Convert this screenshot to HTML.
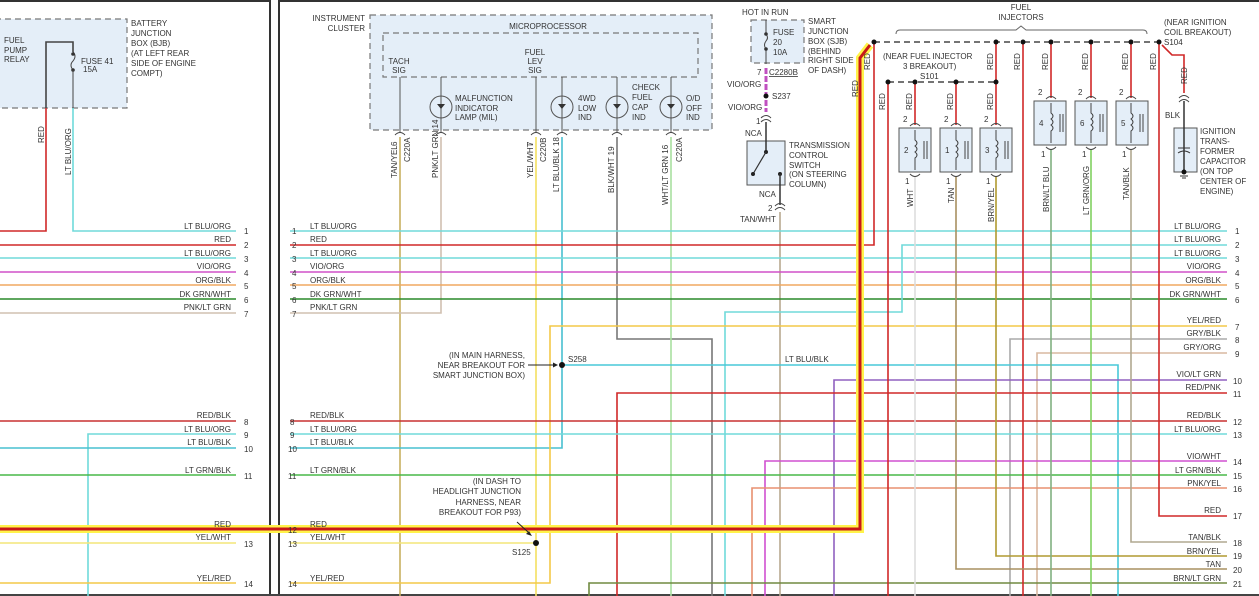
<!DOCTYPE html>
<html><head><meta charset="utf-8"><style>
html,body{margin:0;padding:0;background:#fff;}
svg{display:block;}
text{font-family:"Liberation Sans",sans-serif;font-size:8px;fill:#333;}
.r{text-anchor:end;}
.m{text-anchor:middle;}
.box{fill:#e4eef8;stroke:#777;stroke-width:1.2;stroke-dasharray:6,4;}
.sb{fill:#e4eef8;stroke:#555;stroke-width:1;}
.w{fill:none;stroke-width:1.6;}
</style></head><body>
<svg width="1259" height="596" viewBox="0 0 1259 596" xmlns="http://www.w3.org/2000/svg">
<!-- frames -->
<line x1="0" y1="1" x2="271" y2="1" stroke="#333" stroke-width="2"/>
<line x1="270" y1="0" x2="270" y2="596" stroke="#333" stroke-width="2"/>
<line x1="279" y1="0" x2="279" y2="596" stroke="#333" stroke-width="2"/>
<line x1="279" y1="1" x2="1259" y2="1" stroke="#333" stroke-width="2"/>
<line x1="0" y1="595" x2="1259" y2="595" stroke="#444" stroke-width="2"/>

<!-- LEFT PANEL -->
<rect class="box" x="-5" y="19" width="132" height="89"/>
<text x="4" y="43">FUEL</text><text x="4" y="53">PUMP</text><text x="4" y="62">RELAY</text>
<text x="131" y="26">BATTERY</text><text x="131" y="36">JUNCTION</text><text x="131" y="46">BOX (BJB)</text><text x="131" y="56">(AT LEFT REAR</text><text x="131" y="66">SIDE OF ENGINE</text><text x="131" y="76">COMPT)</text>
<polyline class="w" stroke="#444" stroke-width="1" points="46,108 46,42 73,42 73,52"/>
<path d="M73,52 q4,4 0,9 q-4,4 0,9" fill="none" stroke="#444"/>
<circle cx="73" cy="54" r="1.8" fill="#333"/><circle cx="73" cy="70" r="1.8" fill="#333"/>
<line x1="73" y1="70" x2="73" y2="108" stroke="#444"/>
<text x="81" y="64">FUSE 41</text><text x="83" y="72">15A</text>
<polyline class="w" stroke="#d02828" points="0,231 46,231 46,108"/>
<polyline class="w" stroke="#70dada" points="73,108 73,231 236,231"/>
<text transform="translate(44,143) rotate(-90)">RED</text>
<text transform="translate(71,175) rotate(-90)">LT BLU/ORG</text>
<line class="w" stroke="#d02828" x1="0" y1="245" x2="236" y2="245"/>
<line class="w" stroke="#70dada" x1="0" y1="258" x2="236" y2="258"/>
<line class="w" stroke="#d050c8" x1="0" y1="272" x2="236" y2="272"/>
<line class="w" stroke="#f0a860" x1="0" y1="285" x2="236" y2="285"/>
<line class="w" stroke="#2a8a2a" x1="0" y1="299" x2="236" y2="299"/>
<line class="w" stroke="#d0c0b0" x1="0" y1="313" x2="236" y2="313"/>
<line class="w" stroke="#c83030" x1="0" y1="421" x2="236" y2="421"/>
<polyline class="w" stroke="#70dada" points="88,596 88,434 236,434"/>
<line class="w" stroke="#48c0d0" x1="0" y1="448" x2="236" y2="448"/>
<line class="w" stroke="#48b848" x1="0" y1="475" x2="236" y2="475"/>
<line stroke="#fff34a" stroke-width="8" x1="0" y1="529" x2="236" y2="529"/>
<line stroke="#c81818" stroke-width="3" x1="0" y1="529" x2="236" y2="529"/>
<line class="w" stroke="#f4e678" x1="0" y1="543" x2="236" y2="543"/>
<line class="w" stroke="#f4c848" x1="0" y1="583" x2="236" y2="583"/>
<text class="r" x="231" y="229">LT BLU/ORG</text><text class="r" x="231" y="242">RED</text><text class="r" x="231" y="256">LT BLU/ORG</text><text class="r" x="231" y="269">VIO/ORG</text><text class="r" x="231" y="283">ORG/BLK</text><text class="r" x="231" y="297">DK GRN/WHT</text><text class="r" x="231" y="310">PNK/LT GRN</text>
<text class="r" x="231" y="418">RED/BLK</text><text class="r" x="231" y="432">LT BLU/ORG</text><text class="r" x="231" y="445">LT BLU/BLK</text><text class="r" x="231" y="473">LT GRN/BLK</text><text class="r" x="231" y="527">RED</text><text class="r" x="231" y="540">YEL/WHT</text><text class="r" x="231" y="581">YEL/RED</text>
<text x="244" y="234">1</text><text x="244" y="248">2</text><text x="244" y="262">3</text><text x="244" y="276">4</text><text x="244" y="289">5</text><text x="244" y="303">6</text><text x="244" y="317">7</text>
<text x="244" y="425">8</text><text x="244" y="438">9</text><text x="244" y="452">10</text><text x="244" y="479">11</text><text x="244" y="533">12</text><text x="244" y="547">13</text><text x="244" y="587">14</text>

<!-- RIGHT PANEL: instrument cluster -->
<rect class="box" x="370" y="15" width="342" height="115"/>
<rect class="box" x="383" y="33" width="315" height="44"/>
<text class="r" x="365" y="21">INSTRUMENT</text><text class="r" x="365" y="31">CLUSTER</text>
<text class="m" x="548" y="29">MICROPROCESSOR</text>
<text class="m" x="399" y="64">TACH</text><text class="m" x="399" y="73">SIG</text>
<text class="m" x="535" y="55">FUEL</text><text class="m" x="535" y="64">LEV</text><text class="m" x="535" y="73">SIG</text>
<g stroke="#555" fill="none">
<line x1="400" y1="77" x2="400" y2="132"/><line x1="441" y1="77" x2="441" y2="132"/><line x1="536" y1="77" x2="536" y2="132"/><line x1="562" y1="77" x2="562" y2="132"/><line x1="617" y1="77" x2="617" y2="132"/><line x1="671" y1="77" x2="671" y2="132"/>
<circle cx="441" cy="107" r="11"/><circle cx="562" cy="107" r="11"/><circle cx="617" cy="107" r="11"/><circle cx="671" cy="107" r="11"/>
</g>
<g fill="#333"><path d="M437,104 h8 l-4,5z"/><path d="M558,104 h8 l-4,5z"/><path d="M613,104 h8 l-4,5z"/><path d="M667,104 h8 l-4,5z"/></g>
<text x="455" y="101">MALFUNCTION</text><text x="455" y="111">INDICATOR</text><text x="455" y="120">LAMP (MIL)</text>
<text x="578" y="101">4WD</text><text x="578" y="111">LOW</text><text x="578" y="120">IND</text>
<text x="632" y="90">CHECK</text><text x="632" y="100">FUEL</text><text x="632" y="110">CAP</text><text x="632" y="120">IND</text>
<text x="686" y="101">O/D</text><text x="686" y="111">OFF</text><text x="686" y="120">IND</text>
<g fill="none" stroke="#444"><path d="M395,135 q5,-5 10,0"/><path d="M436,135 q5,-5 10,0"/><path d="M531,135 q5,-5 10,0"/><path d="M557,135 q5,-5 10,0"/><path d="M612,135 q5,-5 10,0"/><path d="M666,135 q5,-5 10,0"/></g>
<text transform="translate(397,146) rotate(-90)">6</text><text transform="translate(410,162) rotate(-90)">C220A</text>
<text transform="translate(397,178) rotate(-90)">TAN/YEL</text>
<text transform="translate(438,178) rotate(-90)">PNK/LT GRN  14</text>
<text transform="translate(533,146) rotate(-90)">7</text><text transform="translate(546,162) rotate(-90)">C220B</text>
<text transform="translate(533,178) rotate(-90)">YEL/WHT</text>
<text transform="translate(559,192) rotate(-90)">LT BLU/BLK  18</text>
<text transform="translate(614,193) rotate(-90)">BLK/WHT  19</text>
<text transform="translate(668,205) rotate(-90)">WHT/LT GRN  16</text><text transform="translate(682,162) rotate(-90)">C220A</text>

<!-- SJB & transmission switch -->
<text x="742" y="15">HOT IN RUN</text>
<rect class="box" x="751" y="20" width="53" height="43"/>
<text x="808" y="24">SMART</text><text x="808" y="34">JUNCTION</text><text x="808" y="44">BOX (SJB)</text><text x="808" y="54">(BEHIND</text><text x="808" y="63">RIGHT SIDE</text><text x="808" y="73">OF DASH)</text>
<line x1="766" y1="20" x2="766" y2="34" stroke="#444"/><path d="M766,34 q3,4 0,7 q-3,4 0,8" fill="none" stroke="#444"/><line x1="766" y1="49" x2="766" y2="64" stroke="#444"/>
<circle cx="766" cy="34" r="1.8" fill="#333"/><circle cx="766" cy="49" r="1.8" fill="#333"/>
<text x="773" y="35">FUSE</text><text x="773" y="45">20</text><text x="773" y="55">10A</text>
<line x1="766" y1="68" x2="766" y2="112" stroke="#c050c0" stroke-width="3" stroke-dasharray="6,2"/>
<text x="757" y="75">7</text><text x="769" y="75" text-decoration="underline">C2280B</text>
<text x="727" y="87">VIO/ORG</text><circle cx="766" cy="96" r="2.5" fill="#111"/><text x="772" y="99">S237</text>
<text x="728" y="110">VIO/ORG</text><text x="756" y="124">1</text>
<path d="M761,118 q5,-5 10,0 M761,122 q5,-5 10,0" fill="none" stroke="#444"/>
<text x="745" y="136">NCA</text>
<rect class="sb" x="747" y="141" width="38" height="44"/>
<line x1="766" y1="122" x2="766" y2="152" stroke="#333" stroke-width="1.5"/><circle cx="766" cy="152" r="2" fill="#222"/>
<line x1="766" y1="152" x2="753" y2="174" stroke="#333" stroke-width="1.2"/><circle cx="753" cy="174" r="2" fill="#222"/><circle cx="780" cy="174" r="2" fill="#222"/>
<line x1="780" y1="174" x2="780" y2="205" stroke="#333" stroke-width="1.5"/>
<text x="789" y="148">TRANSMISSION</text><text x="789" y="158">CONTROL</text><text x="789" y="168">SWITCH</text><text x="789" y="177">(ON STEERING</text><text x="789" y="187">COLUMN)</text>
<text x="759" y="197">NCA</text><text x="768" y="211">2</text>
<path d="M775,206 q5,-5 10,0 M775,210 q5,-5 10,0" fill="none" stroke="#444"/>
<text x="740" y="222">TAN/WHT</text>

<!-- verticals from cluster -->
<line class="w" stroke="#c8b060" x1="400" y1="137" x2="400" y2="596"/>
<polyline class="w" stroke="#d0c0b0" points="441,137 441,313 290,313"/>
<line class="w" stroke="#f4e060" x1="536" y1="137" x2="536" y2="596"/>
<polyline class="w" stroke="#48c0d0" points="562,137 562,448 290,448"/>
<polyline class="w" stroke="#777" points="617,137 617,339 712,339 712,596"/>
<line class="w" stroke="#a8e0a0" x1="671" y1="137" x2="671" y2="596"/>
<line class="w" stroke="#b8a890" x1="780" y1="212" x2="780" y2="596"/>

<!-- horizontal rows right panel -->
<line class="w" stroke="#70dada" x1="290" y1="231" x2="1227" y2="231"/>
<line class="w" stroke="#d02828" x1="290" y1="245" x2="860" y2="245"/>
<polyline class="w" stroke="#d02828" points="860,245 874,245 874,42"/>
<line class="w" stroke="#70dada" x1="290" y1="258" x2="1227" y2="258"/>
<line class="w" stroke="#d050c8" x1="290" y1="272" x2="1227" y2="272"/>
<line class="w" stroke="#f0a860" x1="290" y1="285" x2="1227" y2="285"/>
<line class="w" stroke="#2a8a2a" x1="290" y1="299" x2="1227" y2="299"/>
<polyline class="w" stroke="#70dada" points="1227,245 902,245 902,312 725,312 725,596"/>
<polyline class="w" stroke="#f4c848" points="290,583 550,583 550,326 1227,326"/>
<polyline class="w" stroke="#aaa" points="1227,339 1010,339 1010,596"/>
<polyline class="w" stroke="#d8b8a0" points="1227,353 1037,353 1037,596"/>
<polyline class="w" stroke="#48c8d8" points="562,365 1118,365 1118,596"/>
<circle cx="562" cy="365" r="3" fill="#111"/>
<polyline class="w" stroke="#9060c0" points="1227,380 834,380 834,596"/>
<polyline class="w" stroke="#d02828" points="1227,393 617,393 617,596"/>
<line class="w" stroke="#c83030" x1="290" y1="421" x2="1227" y2="421"/>
<line class="w" stroke="#70dada" x1="290" y1="434" x2="1227" y2="434"/>
<polyline class="w" stroke="#d050d0" points="1227,461 765,461 765,596"/>
<line class="w" stroke="#48b848" x1="290" y1="475" x2="1227" y2="475"/>
<polyline class="w" stroke="#e89070" points="1227,488 752,488 752,596"/>
<line class="w" stroke="#f4e678" x1="290" y1="543" x2="536" y2="543"/>
<circle cx="536" cy="543" r="3" fill="#111"/>
<polyline class="w" stroke="#708a40" points="1227,583 589,583 589,596"/>

<!-- injectors region -->
<text class="m" x="1021" y="10">FUEL</text><text class="m" x="1021" y="20">INJECTORS</text>
<path d="M896,34 q0,-4 4,-4 h116 l5,-4 l5,4 h117 q4,0 4,4" fill="none" stroke="#666"/>
<line x1="874" y1="42" x2="1159" y2="42" stroke="#222" stroke-width="1.3" stroke-dasharray="6,4"/>
<line x1="888" y1="82" x2="996" y2="82" stroke="#222" stroke-width="1.3" stroke-dasharray="6,4"/>
<text x="1164" y="25">(NEAR IGNITION</text><text x="1164" y="35">COIL BREAKOUT)</text><text x="1164" y="45">S104</text>
<text x="883" y="59">(NEAR FUEL INJECTOR</text><text x="903" y="69">3 BREAKOUT)</text><text x="920" y="79">S101</text>
<line class="w" stroke="#d02828" x1="888" y1="82" x2="888" y2="596"/>
<line class="w" stroke="#d02828" x1="915" y1="82" x2="915" y2="125"/>
<line class="w" stroke="#d02828" x1="956" y1="82" x2="956" y2="125"/>
<line class="w" stroke="#d02828" x1="996" y1="42" x2="996" y2="125"/>
<line class="w" stroke="#d02828" x1="1023" y1="42" x2="1023" y2="596"/>
<line class="w" stroke="#d02828" x1="1051" y1="42" x2="1051" y2="98"/>
<line class="w" stroke="#d02828" x1="1091" y1="42" x2="1091" y2="98"/>
<line class="w" stroke="#d02828" x1="1131" y1="42" x2="1131" y2="98"/>
<polyline class="w" stroke="#d02828" points="1159,42 1159,516 1227,516"/>
<polyline class="w" stroke="#d02828" points="1162,45 1172,55 1184,55 1184,93"/>
<line class="w" stroke="#ddd" x1="915" y1="176" x2="915" y2="596"/>
<polyline class="w" stroke="#a89060" points="956,176 956,569 1227,569"/>
<polyline class="w" stroke="#b09a30" points="996,176 996,556 1227,556"/>
<line class="w" stroke="#80b080" x1="1051" y1="149" x2="1051" y2="596"/>
<line class="w" stroke="#80d060" x1="1091" y1="149" x2="1091" y2="596"/>
<polyline class="w" stroke="#b0a890" points="1131,149 1131,542 1227,542"/>
<g fill="#111"><circle cx="874" cy="42" r="2.5"/><circle cx="996" cy="42" r="2.5"/><circle cx="1023" cy="42" r="2.5"/><circle cx="1051" cy="42" r="2.5"/><circle cx="1091" cy="42" r="2.5"/><circle cx="1131" cy="42" r="2.5"/><circle cx="1159" cy="42" r="2.5"/>
<circle cx="888" cy="82" r="2.5"/><circle cx="915" cy="82" r="2.5"/><circle cx="956" cy="82" r="2.5"/><circle cx="996" cy="82" r="2.5"/></g>
<!-- thick highlighted red -->
<polyline points="870,45 860,58 860,529 236,529" fill="none" stroke="#fff34a" stroke-width="8"/>
<polyline points="870,45 860,58 860,529 236,529" fill="none" stroke="#c81818" stroke-width="3"/>
<!-- injector boxes -->
<rect class="sb" x="899" y="128" width="32" height="44"/><rect class="sb" x="940" y="128" width="32" height="44"/><rect class="sb" x="980" y="128" width="32" height="44"/>
<rect class="sb" x="1034" y="101" width="32" height="44"/><rect class="sb" x="1075" y="101" width="32" height="44"/><rect class="sb" x="1116" y="101" width="32" height="44"/>
<g fill="none" stroke="#444">
<path d="M915,130 v10 q4,3 0,6 q4,3 0,6 q4,3 0,6 v12 M924,141 v18 M927,141 v18"/>
<path d="M956,130 v10 q4,3 0,6 q4,3 0,6 q4,3 0,6 v12 M965,141 v18 M968,141 v18"/>
<path d="M996,130 v10 q4,3 0,6 q4,3 0,6 q4,3 0,6 v12 M1005,141 v18 M1008,141 v18"/>
<path d="M1051,103 v10 q4,3 0,6 q4,3 0,6 q4,3 0,6 v12 M1060,114 v18 M1063,114 v18"/>
<path d="M1091,103 v10 q4,3 0,6 q4,3 0,6 q4,3 0,6 v12 M1100,114 v18 M1103,114 v18"/>
<path d="M1131,103 v10 q4,3 0,6 q4,3 0,6 q4,3 0,6 v12 M1140,114 v18 M1143,114 v18"/>
<path d="M910,126 q5,-5 10,0 M951,126 q5,-5 10,0 M991,126 q5,-5 10,0 M1046,99 q5,-5 10,0 M1086,99 q5,-5 10,0 M1126,99 q5,-5 10,0"/>
<path d="M910,174 q5,5 10,0 M951,174 q5,5 10,0 M991,174 q5,5 10,0 M1046,147 q5,5 10,0 M1086,147 q5,5 10,0 M1126,147 q5,5 10,0"/>
</g>
<text x="904" y="153">2</text><text x="945" y="153">1</text><text x="985" y="153">3</text><text x="1039" y="126">4</text><text x="1080" y="126">6</text><text x="1121" y="126">5</text>
<text x="903" y="122">2</text><text x="944" y="122">2</text><text x="984" y="122">2</text><text x="1038" y="95">2</text><text x="1078" y="95">2</text><text x="1119" y="95">2</text>
<text x="905" y="184">1</text><text x="946" y="184">1</text><text x="986" y="184">1</text><text x="1041" y="157">1</text><text x="1082" y="157">1</text><text x="1122" y="157">1</text>
<text transform="translate(913,207) rotate(-90)">WHT</text>
<text transform="translate(954,203) rotate(-90)">TAN</text>
<text transform="translate(994,222) rotate(-90)">BRN/YEL</text>
<text transform="translate(1049,212) rotate(-90)">BRN/LT BLU</text>
<text transform="translate(1089,215) rotate(-90)">LT GRN/ORG</text>
<text transform="translate(1129,200) rotate(-90)">TAN/BLK</text>
<text transform="translate(870,70) rotate(-90)">RED</text><text transform="translate(858,97) rotate(-90)">RED</text>
<text transform="translate(885,110) rotate(-90)">RED</text><text transform="translate(912,110) rotate(-90)">RED</text><text transform="translate(953,110) rotate(-90)">RED</text><text transform="translate(993,110) rotate(-90)">RED</text>
<text transform="translate(993,70) rotate(-90)">RED</text><text transform="translate(1020,70) rotate(-90)">RED</text><text transform="translate(1048,70) rotate(-90)">RED</text><text transform="translate(1088,70) rotate(-90)">RED</text><text transform="translate(1128,70) rotate(-90)">RED</text><text transform="translate(1156,70) rotate(-90)">RED</text>
<text transform="translate(1187,84) rotate(-90)">RED</text>
<!-- capacitor -->
<path d="M1179,98 q5,-5 10,0 M1179,102 q5,-5 10,0" fill="none" stroke="#444"/>
<text x="1165" y="118">BLK</text>
<rect class="sb" x="1174" y="128" width="23" height="44"/>
<line x1="1184" y1="101" x2="1184" y2="172" stroke="#333" stroke-width="1.5"/>
<line x1="1178" y1="148" x2="1190" y2="148" stroke="#333"/><path d="M1178,153 q6,-4 12,0" fill="none" stroke="#333"/>
<circle cx="1184" cy="172" r="2.5" fill="#111"/><line x1="1180" y1="176" x2="1188" y2="176" stroke="#333"/><line x1="1182" y1="178" x2="1186" y2="178" stroke="#333"/>
<text x="1200" y="134">IGNITION</text><text x="1200" y="144">TRANS-</text><text x="1200" y="154">FORMER</text><text x="1200" y="164">CAPACITOR</text><text x="1200" y="174">(ON TOP</text><text x="1200" y="184">CENTER OF</text><text x="1200" y="194">ENGINE)</text>

<!-- notes -->
<text class="r" x="525" y="358">(IN MAIN HARNESS,</text><text class="r" x="525" y="368">NEAR BREAKOUT FOR</text><text class="r" x="525" y="378">SMART JUNCTION BOX)</text>
<line x1="528" y1="365" x2="556" y2="365" stroke="#222"/><path d="M558,365 l-5,-2.5 v5z" fill="#222"/>
<text x="568" y="362">S258</text><text x="785" y="362">LT BLU/BLK</text>
<text class="r" x="521" y="484">(IN DASH TO</text><text class="r" x="521" y="494">HEADLIGHT JUNCTION</text><text class="r" x="521" y="505">HARNESS, NEAR</text><text class="r" x="521" y="515">BREAKOUT FOR P93)</text>
<line x1="517" y1="522" x2="528" y2="532" stroke="#222"/><path d="M532,536 l-6,-2 l3,-3z" fill="#222"/>
<text x="512" y="555">S125</text>

<!-- right panel labels left side -->
<text x="310" y="229">LT BLU/ORG</text><text x="310" y="242">RED</text><text x="310" y="256">LT BLU/ORG</text><text x="310" y="269">VIO/ORG</text><text x="310" y="283">ORG/BLK</text><text x="310" y="297">DK GRN/WHT</text><text x="310" y="310">PNK/LT GRN</text>
<text x="310" y="418">RED/BLK</text><text x="310" y="432">LT BLU/ORG</text><text x="310" y="445">LT BLU/BLK</text><text x="310" y="473">LT GRN/BLK</text><text x="310" y="527">RED</text><text x="310" y="540">YEL/WHT</text><text x="310" y="581">YEL/RED</text>
<text x="292" y="234">1</text><text x="292" y="248">2</text><text x="292" y="262">3</text><text x="292" y="276">4</text><text x="292" y="289">5</text><text x="292" y="303">6</text><text x="292" y="317">7</text>
<text x="290" y="425">8</text><text x="290" y="438">9</text><text x="288" y="452">10</text><text x="288" y="479">11</text><text x="288" y="533">12</text><text x="288" y="547">13</text><text x="288" y="587">14</text>
<!-- right labels -->
<text class="r" x="1221" y="229">LT BLU/ORG</text><text class="r" x="1221" y="242">LT BLU/ORG</text><text class="r" x="1221" y="256">LT BLU/ORG</text><text class="r" x="1221" y="269">VIO/ORG</text><text class="r" x="1221" y="283">ORG/BLK</text><text class="r" x="1221" y="297">DK GRN/WHT</text>
<text class="r" x="1221" y="323">YEL/RED</text><text class="r" x="1221" y="336">GRY/BLK</text><text class="r" x="1221" y="350">GRY/ORG</text><text class="r" x="1221" y="377">VIO/LT GRN</text><text class="r" x="1221" y="390">RED/PNK</text>
<text class="r" x="1221" y="418">RED/BLK</text><text class="r" x="1221" y="432">LT BLU/ORG</text><text class="r" x="1221" y="459">VIO/WHT</text><text class="r" x="1221" y="473">LT GRN/BLK</text><text class="r" x="1221" y="486">PNK/YEL</text><text class="r" x="1221" y="513">RED</text>
<text class="r" x="1221" y="540">TAN/BLK</text><text class="r" x="1221" y="554">BRN/YEL</text><text class="r" x="1221" y="567">TAN</text><text class="r" x="1221" y="581">BRN/LT GRN</text>
<text x="1235" y="234">1</text><text x="1235" y="248">2</text><text x="1235" y="262">3</text><text x="1235" y="276">4</text><text x="1235" y="289">5</text><text x="1235" y="303">6</text><text x="1235" y="330">7</text><text x="1235" y="343">8</text><text x="1235" y="357">9</text><text x="1233" y="384">10</text><text x="1233" y="397">11</text>
<text x="1233" y="425">12</text><text x="1233" y="438">13</text><text x="1233" y="465">14</text><text x="1233" y="479">15</text><text x="1233" y="492">16</text><text x="1233" y="519">17</text><text x="1233" y="546">18</text><text x="1233" y="559">19</text><text x="1233" y="573">20</text><text x="1233" y="587">21</text>
</svg>
</body></html>
